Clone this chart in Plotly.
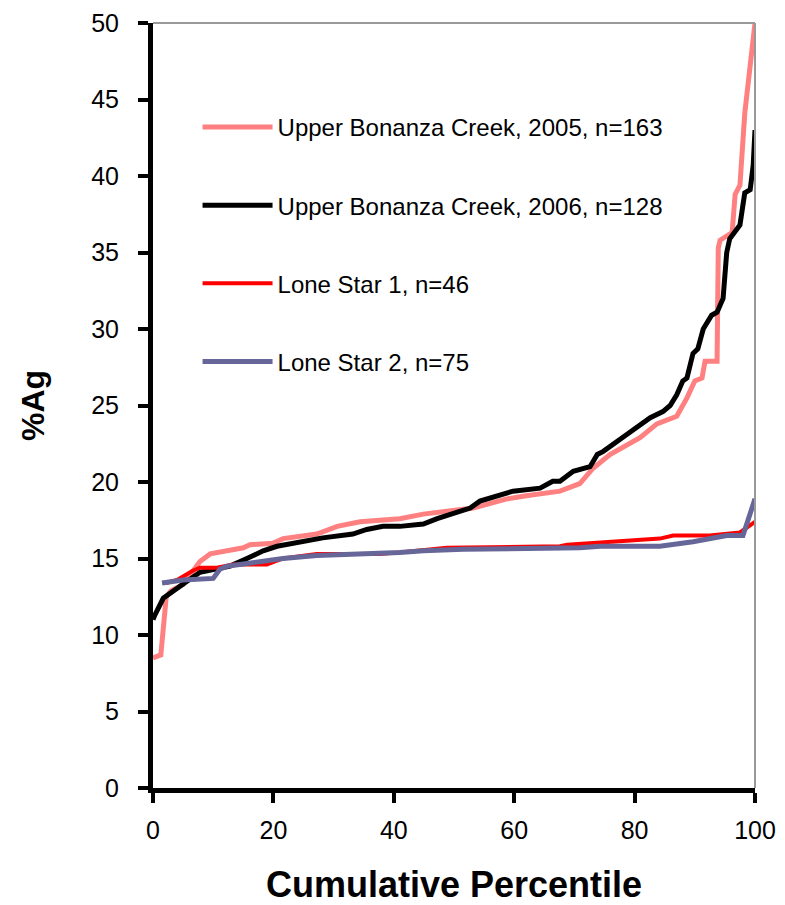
import plotly.graph_objects as go

# cumulative percentile (x) vs %Ag (y)
ubc05_pct = [0, 1.3, 2.2, 3, 5, 6.6, 7.8, 9.5, 12.3, 15, 16.1, 19.9, 21.6, 27.2, 30.6,
             34.4, 41, 44.9, 53.2, 58.8, 62, 67.6, 70.9, 73.1, 75.9, 80.9, 83.7, 87,
             88.7, 90, 91.2, 91.7, 93.7, 93.9, 94.2, 96.2, 96.7, 97.5, 98.3, 100]
ubc05_ag = [8.5, 8.7, 12.5, 12.9, 13.3, 14.2, 14.8, 15.3, 15.5, 15.7, 15.9, 16.0, 16.3, 16.6, 17.1,
            17.4, 17.6, 17.9, 18.3, 18.9, 19.1, 19.4, 19.9, 20.9, 21.8, 22.9, 23.8, 24.3,
            25.5, 26.6, 26.8, 27.9, 27.9, 35.3, 35.8, 36.3, 38.8, 39.4, 44.1, 50]

ubc06_pct = [0, 0.3, 1.7, 4, 5.6, 7.8, 10.6, 12.8, 15.6, 18.3, 20.6, 24.4, 28.2, 33.2, 35.5,
             38.2, 41, 44.9, 47.2, 52.7, 54.3, 59.8, 64.3, 66.4, 67.6, 69.8, 70.9, 72.6,
             73.8, 74.8, 78.7, 82.6, 84.7, 85.9, 87, 88, 88.7, 89.7, 90.5, 91.4, 92.8,
             93.7, 94.7, 95.3, 95.8, 97.5, 98.3, 99.2, 99.7, 100]
ubc06_ag = [11.0, 11.3, 12.4, 13.1, 13.5, 14.1, 14.3, 14.5, 15.0, 15.5, 15.8, 16.1, 16.35, 16.6, 16.9,
            17.1, 17.1, 17.25, 17.6, 18.3, 18.75, 19.4, 19.6, 20.05, 20.05, 20.7, 20.8, 21.0,
            21.8, 22.0, 23.1, 24.2, 24.6, 25.0, 25.7, 26.6, 26.8, 28.4, 28.7, 30.0, 30.9,
            31.1, 32.0, 35.0, 35.9, 36.8, 38.9, 39.1, 40.7, 43.0]

ls1_pct = [2.2, 4, 6.6, 7.8, 10.6, 13.3, 18.9, 21.6, 27.2, 37.7, 41, 48.8, 67.6, 68.8,
           84.2, 86.4, 92.5, 97.5, 100]
ls1_ag = [13.4, 13.6, 14.2, 14.4, 14.4, 14.6, 14.6, 15.0, 15.3, 15.3, 15.4, 15.7, 15.8, 15.9,
          16.3, 16.5, 16.5, 16.7, 17.4]

ls2_pct = [1.5, 5, 10, 11.1, 12.3, 16.1, 18.9, 21.6, 27.2, 35.5, 41, 44.9, 51.5, 70.9,
           74.3, 84.2, 89.7, 95.3, 98, 100]
ls2_ag = [13.4, 13.6, 13.7, 14.3, 14.5, 14.7, 14.8, 15.0, 15.2, 15.3, 15.4, 15.5, 15.6, 15.7,
          15.8, 15.8, 16.1, 16.5, 16.5, 18.9]

series = [
    ("Upper Bonanza Creek, 2005, n=163", ubc05_pct, ubc05_ag, "#ff8080", 5),
    ("Upper Bonanza Creek, 2006, n=128", ubc06_pct, ubc06_ag, "#000000", 5),
    ("Lone Star 1, n=46", ls1_pct, ls1_ag, "#ff0000", 4),
    ("Lone Star 2, n=75", ls2_pct, ls2_ag, "#666699", 5),
]

FONT = "Liberation Sans, Arial, sans-serif"

fig = go.Figure()
for i, (name, x, y, color, w) in enumerate(series):
    fig.add_trace(go.Scatter(x=x, y=y, mode="lines", name=name, legendgroup=str(i),
                             line=dict(color=color, width=w)))

# grey frame on the top and right
fig.add_shape(type="line", xref="paper", yref="paper", x0=0, x1=1, y0=1, y1=1,
              line=dict(color="#999999", width=2))
fig.add_shape(type="line", xref="paper", yref="paper", x0=1, x1=1, y0=0, y1=1,
              line=dict(color="#999999", width=2))

axis_style = dict(showgrid=False, zeroline=False, showline=True, linecolor="black",
                  linewidth=5, ticks="outside", tickcolor="black", tickwidth=4, ticklen=10,
                  automargin=False, ticklabeloverflow="allow",
                  tickfont=dict(family=FONT, size=25, color="black"))

fig.update_xaxes(range=[0, 100], dtick=20, ticklabelstandoff=6,
                 title=dict(text="<b>Cumulative Percentile</b>", standoff=34,
                            font=dict(family=FONT, size=36, color="black")),
                 **axis_style)
fig.update_yaxes(range=[0, 50], dtick=5, ticklabelstandoff=14,
                 title=dict(text="<b>%Ag</b>", standoff=38,
                            font=dict(family=FONT, size=32, color="black")),
                 **axis_style)

# page body adds an 8px offset, so the figure is sized to fit the window
fig.update_layout(
    width=777, height=897,
    paper_bgcolor="white", plot_bgcolor="white",
    margin=dict(l=145, r=30, t=15, b=117),
    showlegend=True,
    legend=dict(x=0.074, y=0.893, xanchor="left", yanchor="top",
                bgcolor="rgba(0,0,0,0)", tracegroupgap=44, itemwidth=70,
                font=dict(family=FONT, size=24, color="black")),
)

fig.write_html("out.html")
